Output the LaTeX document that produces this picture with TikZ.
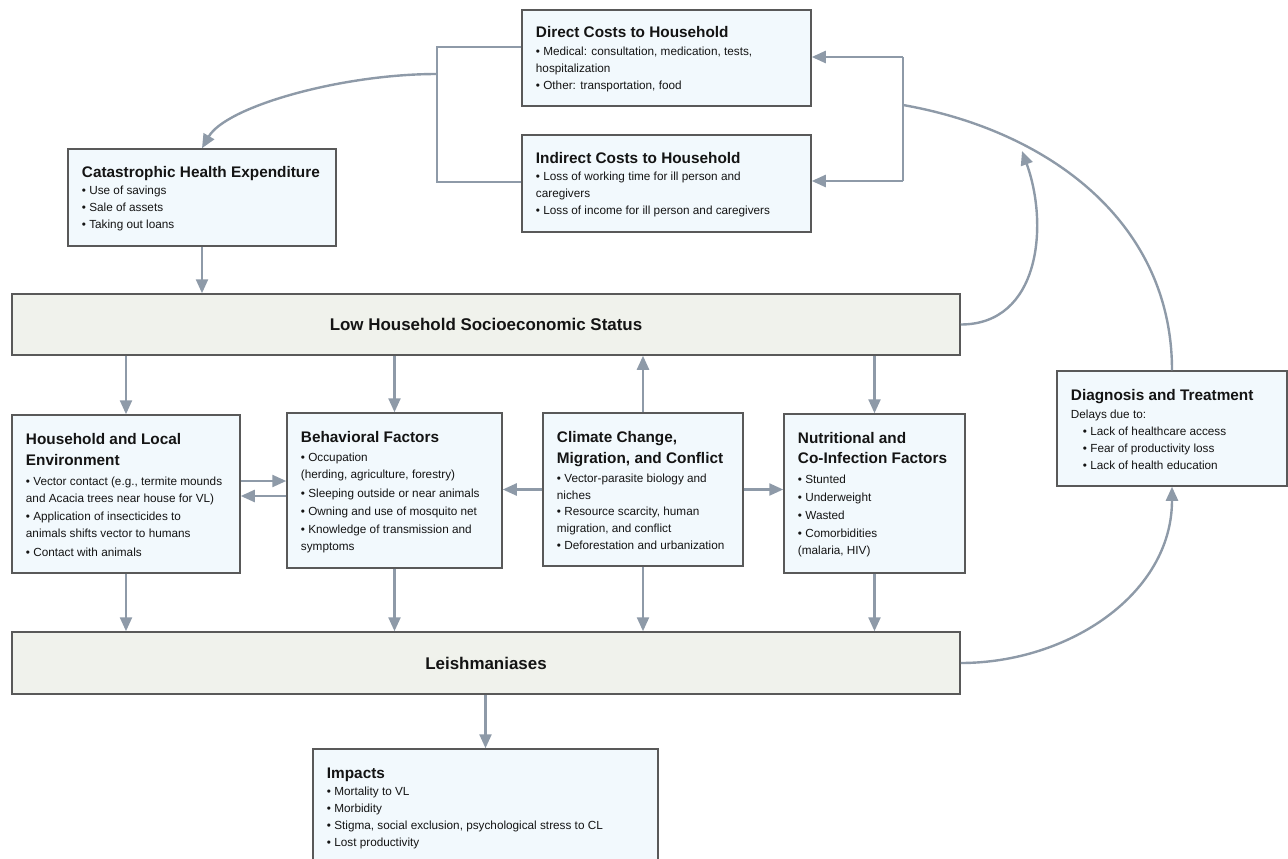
\documentclass[tikz,border=0pt]{standalone}
\usepackage{fontspec}
\setmainfont{Liberation Sans}
\usepackage{tikz}
\usetikzlibrary{arrows.meta,positioning}
\definecolor{boxline}{HTML}{595959}
\definecolor{boxfill}{HTML}{F2F9FD}
\definecolor{bandfill}{HTML}{F0F2EC}
\definecolor{linkgray}{HTML}{8E9AA8}
\definecolor{ink}{HTML}{141414}
\newcommand{\bodyfont}{\fontsize{11.8}{17}\selectfont}
\newcommand{\boxtitle}[1]{{\fontsize{15.4}{18}\selectfont\bfseries #1}}
\tikzstyle{factor}=[
  draw=boxline,
  fill=boxfill,
  line width=1.5bp,
  inner sep=0pt,
]
\tikzstyle{band}=[
  factor,
  fill=bandfill,
  text=ink,
  font=\fontsize{17}{20}\selectfont\bfseries,
]
\tikzstyle{boxtext}=[
  anchor=west,
  align=left,
  inner sep=0pt,
  text=ink,
  font=\bodyfont,
]
\tikzstyle{link}=[
  draw=linkgray,
  line width=2.4bp,
]
\tikzset{
  >={Triangle[length=14bp,width=12bp]},
}

\begin{document}
\begin{tikzpicture}[x=1bp,y=1bp]
  \clip (0,0) rectangle (1288,-859);

  % costs
  \node[factor, minimum width=289bp, minimum height=96bp] (direct) at (666.5,-58) {};
  \node[boxtext] (direct-txt) at ([xshift=14.5bp,yshift=-1bp]direct.west) {\boxtitle{Direct Costs to Household}\\[1bp]
    • Medical: consultation, medication, tests,\\
    hospitalization\\[0.5bp]
    • Other: transportation, food};
  \node[factor, minimum width=289bp, minimum height=97bp] (indirect) at (666.5,-183.5) {};
  \node[boxtext] (indirect-txt) at ([xshift=14.5bp,yshift=-1bp]indirect.west) {\boxtitle{Indirect Costs to Household}\\[0.5bp]
    • Loss of working time for ill person and\\
    caregivers\\
    • Loss of income for ill person and caregivers};
  \node[factor, minimum width=268bp, minimum height=97bp] (catas) at (202,-197.5) {};
  \node[boxtext] (catas-txt) at ([xshift=14.5bp,yshift=-1.5bp]catas.west) {\boxtitle{Catastrophic Health Expenditure}\\
    • Use of savings\\
    • Sale of assets\\
    • Taking out loans};

  % bands
  \node[band, minimum width=948bp, minimum height=61bp] (ses) at (486,-324.5) {Low Household Socioeconomic Status};
  \node[band, minimum width=948bp, minimum height=62bp] (leish) at (486,-663) {Leishmaniases};

  % factors
  \node[factor, minimum width=228bp, minimum height=158bp] (house) at (126,-494) {};
  \node[boxtext] (house-txt) at ([xshift=14.5bp,yshift=-1bp]house.west) {\boxtitle{Household and Local}\\[4bp]
    \boxtitle{Environment}\\[3bp]
    • Vector contact (e.g., termite mounds\\
    and Acacia trees near house for VL)\\[2bp]
    • Application of insecticides to\\
    animals shifts vector to humans\\[2bp]
    • Contact with animals};
  \node[factor, minimum width=215bp, minimum height=155bp] (behav) at (394.5,-490.5) {};
  \node[boxtext] (behav-txt) at ([xshift=14.5bp,yshift=-2bp]behav.west) {\boxtitle{Behavioral Factors}\\[2bp]
    • Occupation\\
    (herding, agriculture, forestry)\\[1.5bp]
    • Sleeping outside or near animals\\[1.5bp]
    • Owning and use of mosquito net\\[1.5bp]
    • Knowledge of transmission and\\
    symptoms};
  \node[factor, minimum width=200bp, minimum height=153bp] (climate) at (643,-489.5) {};
  \node[boxtext] (climate-txt) at ([xshift=14.5bp,yshift=-1bp]climate.west) {\boxtitle{Climate Change,}\\[4bp]
    \boxtitle{Migration, and Conflict}\\[2bp]
    • Vector-parasite biology and\\
    niches\\
    • Resource scarcity, human\\
    migration, and conflict\\
    • Deforestation and urbanization};
  \node[factor, minimum width=181bp, minimum height=159bp] (nutri) at (874.5,-493.5) {};
  \node[boxtext] (nutri-txt) at ([xshift=14.5bp,yshift=-1bp]nutri.west) {\boxtitle{Nutritional and}\\[4bp]
    \boxtitle{Co-Infection Factors}\\[3bp]
    • Stunted\\[1bp]
    • Underweight\\[1bp]
    • Wasted\\[1bp]
    • Comorbidities\\
    (malaria, HIV)};
  \node[factor, minimum width=230bp, minimum height=115bp] (diag) at (1172,-428.5) {};
  \node[boxtext] (diag-txt) at ([xshift=14.5bp,yshift=-1bp]diag.west) {\boxtitle{Diagnosis and Treatment}\\[1bp]
    Delays due to:\\
    \hspace*{12bp}• Lack of healthcare access\\
    \hspace*{12bp}• Fear of productivity loss\\
    \hspace*{12bp}• Lack of health education};
  \node[factor, minimum width=345bp, minimum height=114bp] (impacts) at (485.5,-806) {};
  \node[boxtext] (impacts-txt) at ([xshift=14.5bp,yshift=-2.5bp]impacts.west) {\boxtitle{Impacts}\\
    • Mortality to VL\\
    • Morbidity\\
    • Stigma, social exclusion, psychological stress to CL\\
    • Lost productivity};

  % cost brackets
  \coordinate (ltop) at (437,-47);
  \coordinate (lbot) at (437,-182);
  \coordinate (lmid) at (437,-74);
  \draw[link] (direct.west |- ltop) -- (ltop) -- (lbot) -- (indirect.west |- lbot);
  \draw[link,->] (lmid) to[out=180,in=60,in looseness=0.5] (catas.north);
  \coordinate (rtop) at (903,-57);
  \coordinate (rbot) at (903,-181);
  \coordinate (rmid) at (903,-105);
  \draw[link] (rtop) -- (rbot);
  \draw[link,->] (rtop) -- (direct.east |- rtop);
  \draw[link,->] (rbot) -- (indirect.east |- rbot);
  \draw[link] (diag.north) to[out=90,in=-10] (rmid);

  % loops on the right
  \coordinate (sestip) at (1022,-151);
  \draw[link,->] (ses.east) to[out=0,in=-70,looseness=1.1] (sestip);
  \draw[link,->] (leish.east) to[out=0,in=-90] (diag.south);

  % straight links
  \draw[link,->] (catas.south) -- (catas.south |- ses.north);
  \foreach \n in {house,behav,nutri}
    \draw[link,->] (\n.north |- ses.south) -- (\n.north);
  \draw[link,->] (climate.north) -- (climate.north |- ses.south);
  \foreach \n in {house,behav,climate,nutri}
    \draw[link,->] (\n.south) -- (\n.south |- leish.north);
  \draw[link,->] (leish.south -| impacts.north) -- (impacts.north);
  \draw[link,->] ([yshift=13bp]house.east) -- ([yshift=13bp]house.east -| behav.west);
  \draw[link,->] ([yshift=-2bp]house.east -| behav.west) -- ([yshift=-2bp]house.east);
  \draw[link,->] (climate.west) -- (climate.west -| behav.east);
  \draw[link,->] (climate.east) -- (climate.east -| nutri.west);
\end{tikzpicture}
\end{document}
